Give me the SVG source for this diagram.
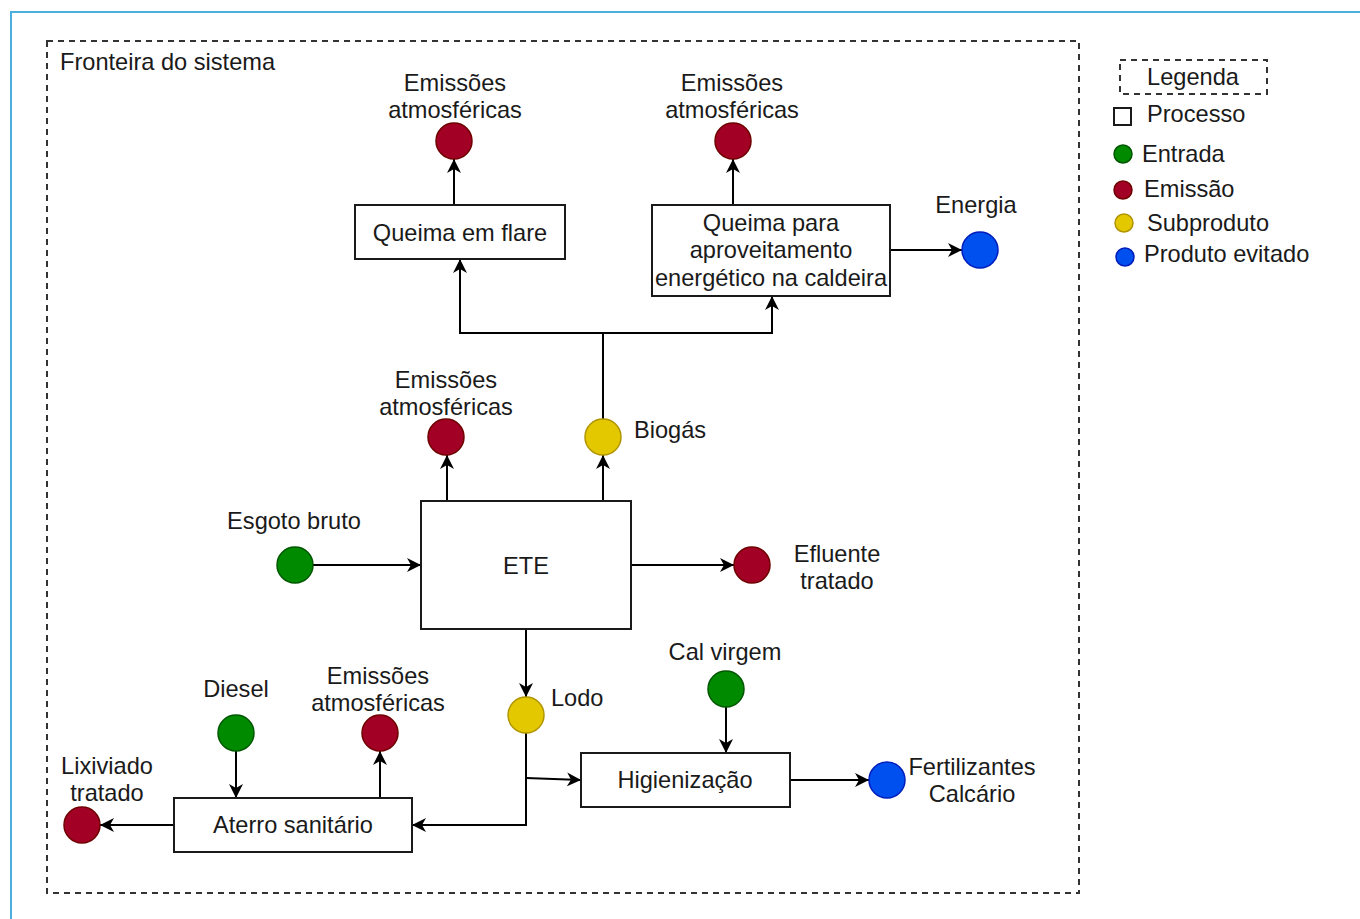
<svg xmlns="http://www.w3.org/2000/svg" width="1360" height="919" viewBox="0 0 1360 919">
<style>
text{font-family:"Liberation Sans",Arial,sans-serif;font-size:23.6px;fill:#1a1a1a}
.c{text-anchor:middle}
.box{fill:#fff;stroke:#1a1a1a;stroke-width:2}
.ent{fill:#008a00;stroke:#005700;stroke-width:1.5}
.emi{fill:#a20025;stroke:#6f0000;stroke-width:1.5}
.sub{fill:#e3c800;stroke:#b09500;stroke-width:1.5}
.pro{fill:#0050ef;stroke:#001dbc;stroke-width:1.5}
.ln{fill:none;stroke:#000;stroke-width:2}
.arr{marker-end:url(#ah)}
.dash{fill:none;stroke:#333;stroke-width:2;stroke-dasharray:6 5}
</style>
<defs>
<marker id="ah" markerUnits="userSpaceOnUse" viewBox="0 0 15 14" markerWidth="15" markerHeight="14" refX="14" refY="7" orient="auto">
<path d="M0,0 L14,7 L0,14 L4,7 Z" fill="#000"/>
</marker>
</defs>
<rect width="1360" height="919" fill="#fff"/>
<path d="M11,919 V12 H1360" fill="none" stroke="#4cb0de" stroke-width="2"/>

<g id="fronteira">
<rect class="dash" x="47" y="41" width="1032" height="852"/>
<text x="60" y="70">Fronteira do sistema</text>
</g>

<g id="legenda">
<rect class="dash" x="1120" y="60" width="147" height="34"/>
<text class="c" x="1193" y="85">Legenda</text>
<rect x="1114" y="108" width="17" height="17" fill="#fff" stroke="#1a1a1a" stroke-width="2"/>
<text x="1147" y="122">Processo</text>
<circle class="ent" cx="1123" cy="154" r="9"/>
<text x="1142" y="162">Entrada</text>
<circle class="emi" cx="1123" cy="190" r="9"/>
<text x="1144" y="197">Emissão</text>
<circle class="sub" cx="1124" cy="223" r="9"/>
<text x="1147" y="231">Subproduto</text>
<circle class="pro" cx="1125" cy="257" r="9"/>
<text x="1144" y="262">Produto evitado</text>
</g>

<g id="connectors">
<path class="ln arr" d="M454,205 V159"/>
<path class="ln arr" d="M733,205 V159"/>
<path class="ln arr" d="M890,250 H962"/>
<path class="ln arr" d="M447,501 V455"/>
<path class="ln arr" d="M603,501 V455"/>
<path class="ln arr" d="M603,419 V333 H460 V259"/>
<path class="ln arr" d="M603,333 H772 V296"/>
<path class="ln arr" d="M313,565 H421"/>
<path class="ln arr" d="M631,565 H734"/>
<path class="ln arr" d="M526,629 V697"/>
<path class="ln arr" d="M526,733 V825 H412"/>
<path class="ln arr" d="M526,778 L581,780"/>
<path class="ln arr" d="M726,707 V753"/>
<path class="ln arr" d="M790,780 H869"/>
<path class="ln arr" d="M236,751 V798"/>
<path class="ln arr" d="M380,798 V751"/>
<path class="ln arr" d="M174,825 H100"/>
</g>

<g id="queima-flare">
<rect class="box" x="355" y="205" width="210" height="54"/>
<text class="c" x="460" y="241">Queima em flare</text>
</g>
<g id="queima-caldeira">
<rect class="box" x="652" y="205" width="238" height="91"/>
<text class="c" x="771" y="231">Queima para</text>
<text class="c" x="771" y="258">aproveitamento</text>
<text class="c" x="771" y="286">energético na caldeira</text>
</g>
<g id="ete">
<rect class="box" x="421" y="501" width="210" height="128"/>
<text class="c" x="526" y="574">ETE</text>
</g>
<g id="higienizacao">
<rect class="box" x="581" y="753" width="209" height="54"/>
<text class="c" x="685" y="788">Higienização</text>
</g>
<g id="aterro">
<rect class="box" x="174" y="798" width="238" height="54"/>
<text class="c" x="293" y="833">Aterro sanitário</text>
</g>

<g id="emissoes-flare">
<circle class="emi" cx="454" cy="141" r="18"/>
<text class="c" x="455" y="91">Emissões</text>
<text class="c" x="455" y="118">atmosféricas</text>
</g>
<g id="emissoes-caldeira">
<circle class="emi" cx="733" cy="141" r="18"/>
<text class="c" x="732" y="91">Emissões</text>
<text class="c" x="732" y="118">atmosféricas</text>
</g>
<g id="energia">
<circle class="pro" cx="980" cy="250" r="18"/>
<text class="c" x="976" y="213">Energia</text>
</g>
<g id="emissoes-ete">
<circle class="emi" cx="446" cy="437" r="18"/>
<text class="c" x="446" y="388">Emissões</text>
<text class="c" x="446" y="415">atmosféricas</text>
</g>
<g id="biogas">
<circle class="sub" cx="603" cy="437" r="18"/>
<text x="634" y="438">Biogás</text>
</g>
<g id="esgoto">
<circle class="ent" cx="295" cy="565" r="18"/>
<text class="c" x="294" y="529">Esgoto bruto</text>
</g>
<g id="efluente">
<circle class="emi" cx="752" cy="565" r="18"/>
<text class="c" x="837" y="562">Efluente</text>
<text class="c" x="837" y="589">tratado</text>
</g>
<g id="lodo">
<circle class="sub" cx="526" cy="715" r="18"/>
<text x="551" y="706">Lodo</text>
</g>
<g id="cal">
<circle class="ent" cx="726" cy="689" r="18"/>
<text class="c" x="725" y="660">Cal virgem</text>
</g>
<g id="fertilizantes">
<circle class="pro" cx="887" cy="780" r="18"/>
<text class="c" x="972" y="775">Fertilizantes</text>
<text class="c" x="972" y="802">Calcário</text>
</g>
<g id="diesel">
<circle class="ent" cx="236" cy="733" r="18"/>
<text class="c" x="236" y="697">Diesel</text>
</g>
<g id="emissoes-aterro">
<circle class="emi" cx="380" cy="733" r="18"/>
<text class="c" x="378" y="684">Emissões</text>
<text class="c" x="378" y="711">atmosféricas</text>
</g>
<g id="lixiviado">
<circle class="emi" cx="82" cy="825" r="18"/>
<text class="c" x="107" y="774">Lixiviado</text>
<text class="c" x="107" y="801">tratado</text>
</g>
</svg>
